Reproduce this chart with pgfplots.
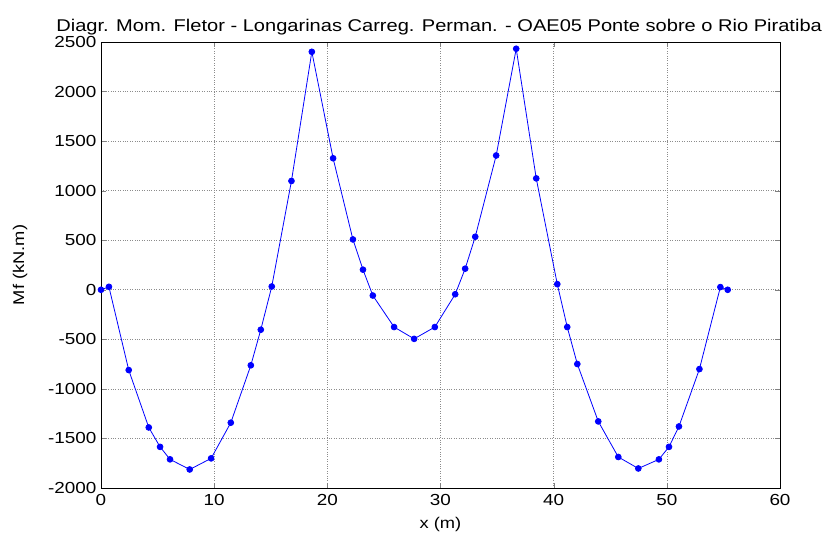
\documentclass[border=0pt]{standalone}
\usepackage{pgfplots}
\pgfplotsset{compat=1.18}
\usepackage{fontspec}
\setmainfont{Liberation Sans}[FakeStretch=1.18]
\begin{document}
\begin{tikzpicture}
\useasboundingbox (-101pt,-48pt) rectangle (731pt,488pt);
\begin{axis}[
  at={(0pt,0pt)}, anchor=south west,
  scale only axis, width=679pt, height=446pt,
  xmin=0, xmax=60, ymin=-2000, ymax=2500,
  xtick={0,10,...,60}, ytick={-2000,-1500,...,2500},
  /pgf/number format/assume math mode=true,
  /pgf/number format/1000 sep={},
  tick label style={font=\fontsize{16}{17}\selectfont},
  tick align=inside, major tick length=5pt,
  xtick pos=both, ytick pos=both,
  grid=major, major grid style={gray!90, dotted, line width=0.6pt},
  axis line style={line width=0.9pt},
  xticklabel style={yshift=-3pt},
  yticklabel style={xshift=-1pt},
  title={Diagr. Mom. Fletor - Longarinas Carreg. Perman. - OAE05 Ponte sobre o Rio Piratiba},
  title style={font=\fontsize{17}{18}\selectfont, at={(axis description cs:0.498,1)}, anchor=south, yshift=-3pt},
  xlabel={x (m)}, ylabel={Mf (kN.m)},
  label style={font=\fontsize{15.5}{16}\selectfont},
  xlabel style={yshift=-5pt},
  ylabel style={yshift=14pt},
]
\addplot[blue, line width=0.8pt, mark=*, mark size=2.9pt, mark options={fill=blue, draw=blue}] coordinates {
(0,0) (0.7,30) (2.45,-810) (4.22,-1389) (5.22,-1585) (6.1,-1711) (7.84,-1813)
(9.73,-1701) (11.47,-1341) (13.24,-762) (14.12,-403) (15.09,33) (16.83,1098)
(18.63,2401) (20.51,1327) (22.26,508) (23.15,203) (24.02,-58) (25.9,-376)
(27.67,-495) (29.5,-376) (31.3,-45) (32.18,213) (33.07,535) (34.92,1355)
(36.69,2432) (38.46,1124) (40.32,57) (41.2,-376) (42.09,-749) (43.94,-1328)
(45.71,-1687) (47.48,-1803) (49.3,-1711) (50.19,-1585) (51.07,-1379)
(52.88,-800) (54.73,27) (55.38,0)
};
\end{axis}
\end{tikzpicture}
\end{document}
